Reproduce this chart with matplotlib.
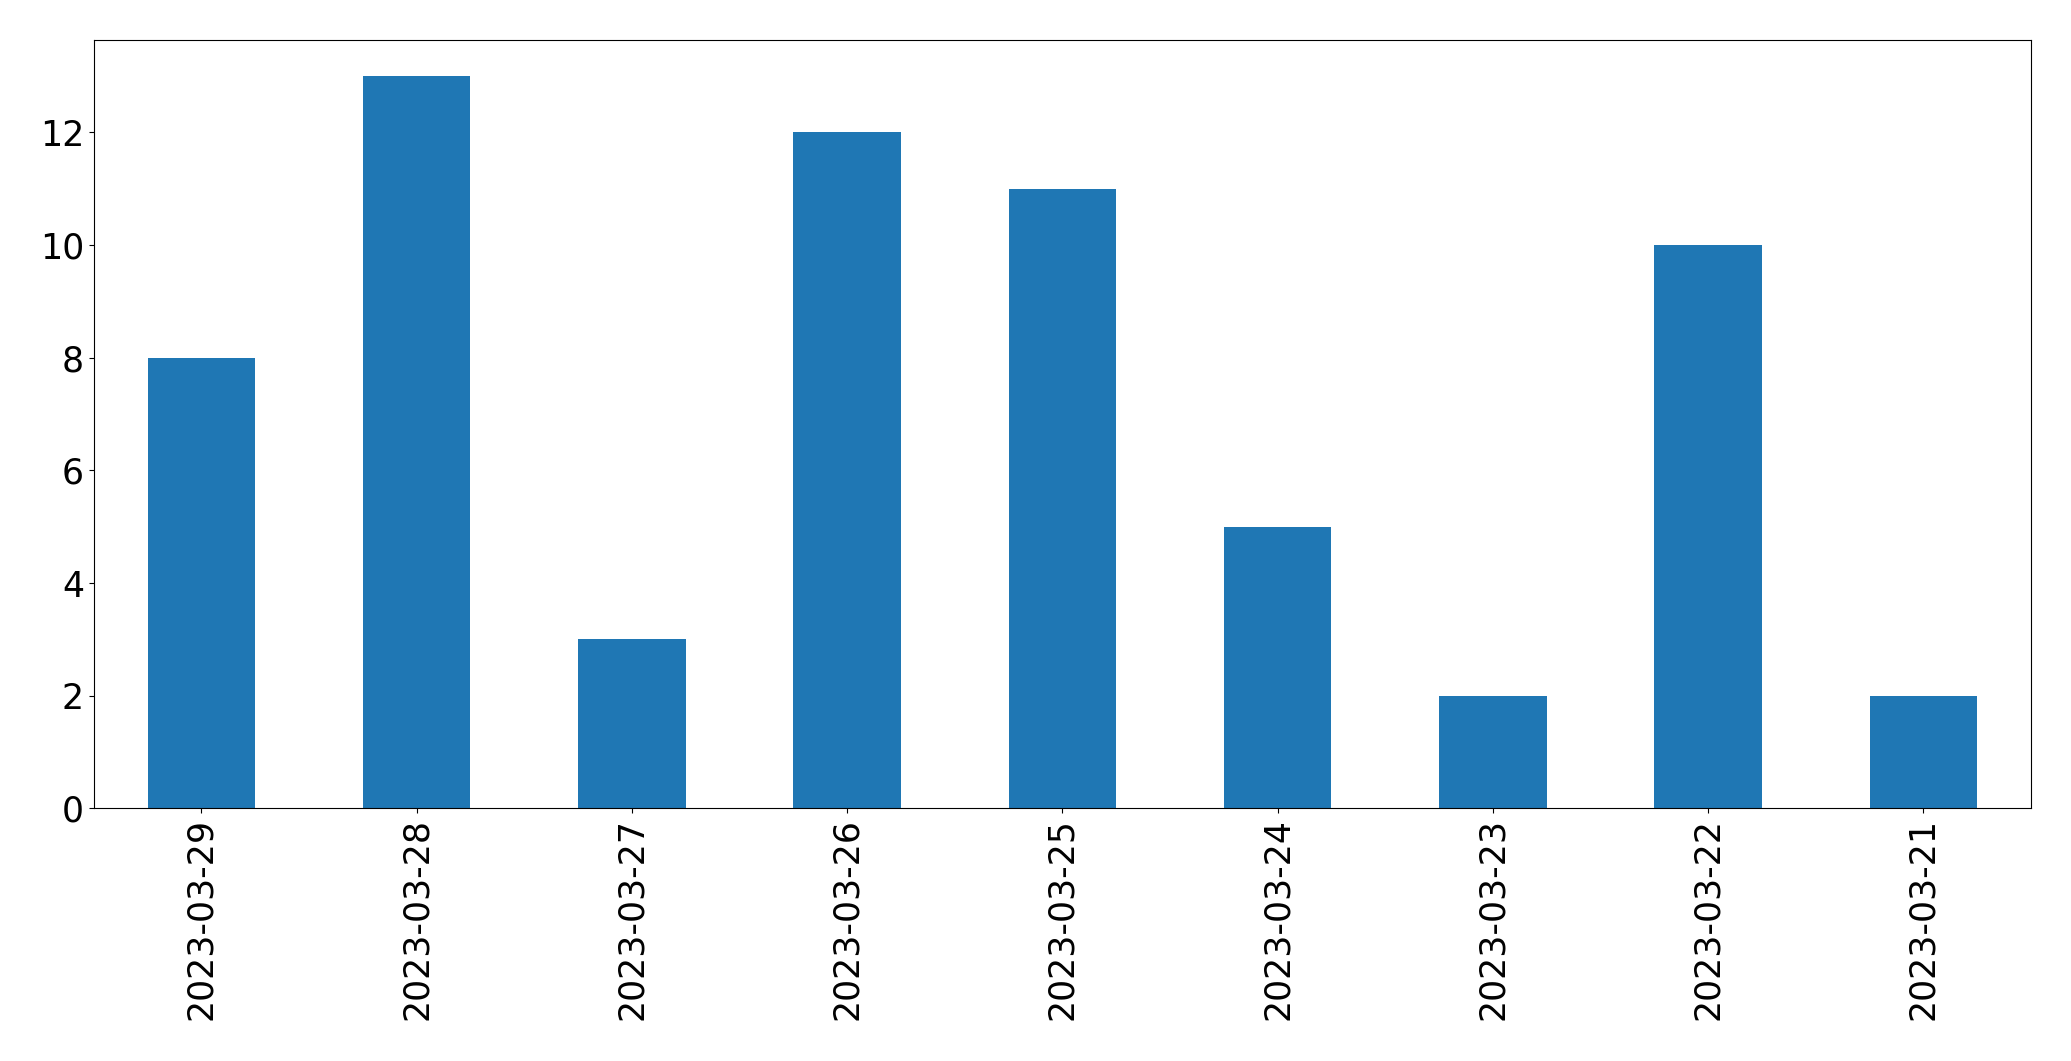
import matplotlib
matplotlib.use("Agg")
import matplotlib.pyplot as plt
import numpy as np

# dates (as shown, newest first) and counts
dates = ['2023-03-29', '2023-03-28', '2023-03-27', '2023-03-26', '2023-03-25',
         '2023-03-24', '2023-03-23', '2023-03-22', '2023-03-21']
counts = [8, 13, 3, 12, 11, 5, 2, 10, 2]

fig = plt.figure(figsize=(20.71, 10.61), dpi=100)
ax = fig.add_axes([0.0453, 0.2382, 0.9354, 0.7245])

x = np.arange(len(dates))
ax.bar(x, counts, width=0.5, color='#1f77b4')
ax.set_xlim(-0.5, len(dates) - 0.5)
ax.set_xticks(x)
ax.set_xticklabels(dates, rotation=90)
ax.tick_params(labelsize=25)

fig.savefig('out.png', dpi=100)
